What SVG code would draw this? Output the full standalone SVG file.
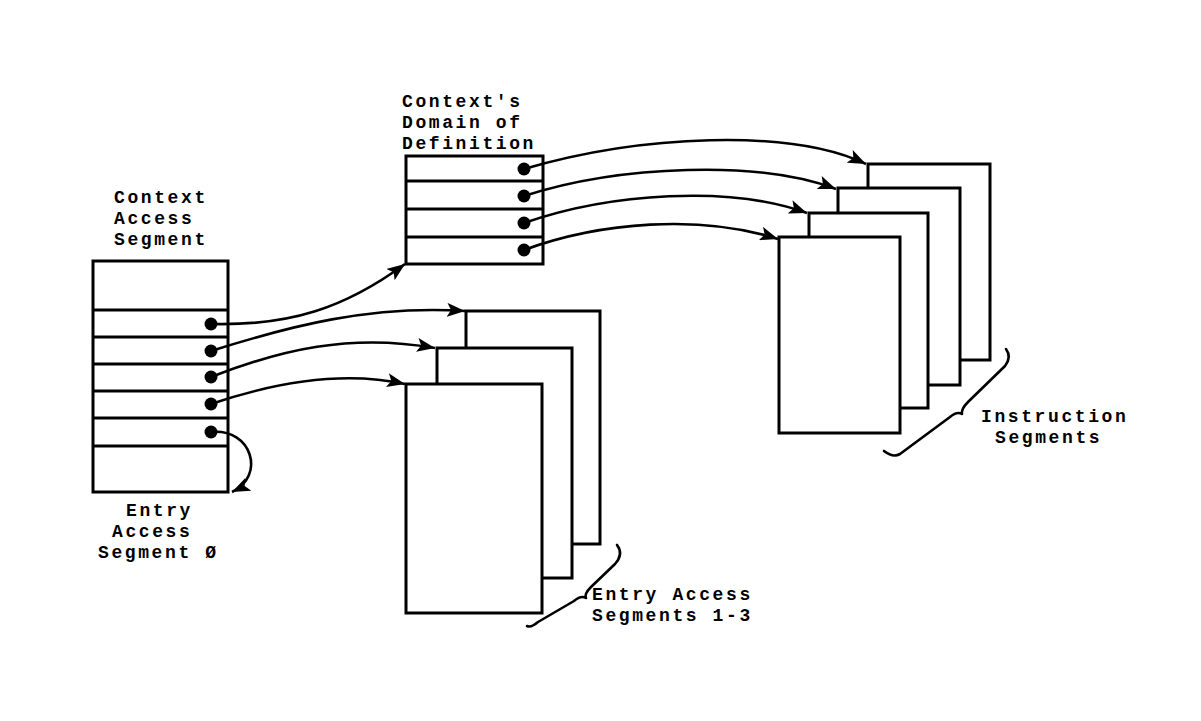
<svg xmlns="http://www.w3.org/2000/svg" width="1201" height="721" viewBox="0 0 1201 721">
<defs>
<style>
.box{fill:#fff;stroke:#000;stroke-width:3}
.row{stroke:#000;stroke-width:3}
.dot{fill:#000}
.txt{font-family:"Liberation Mono","DejaVu Sans Mono",monospace;font-weight:bold;font-size:18px;letter-spacing:2.6px;fill:#000}
.con{fill:none;stroke:#000;stroke-width:2.6}
.brace{fill:none;stroke:#000;stroke-width:2.6;stroke-linejoin:round;stroke-linecap:round}
</style>
<marker id="ah" markerUnits="userSpaceOnUse" markerWidth="20" markerHeight="14" refX="18" refY="7" orient="auto">
<path d="M0,0 L18,7 L0,14 L4,7 Z" fill="#000"/>
</marker>
</defs>
<rect width="1201" height="721" fill="#fff"/>

<g id="context-access-segment">
<rect class="box" x="93" y="261" width="135" height="231"/>
<line class="row" x1="93" y1="310" x2="228" y2="310"/>
<line class="row" x1="93" y1="337" x2="228" y2="337"/>
<line class="row" x1="93" y1="364" x2="228" y2="364"/>
<line class="row" x1="93" y1="391" x2="228" y2="391"/>
<line class="row" x1="93" y1="418" x2="228" y2="418"/>
<line class="row" x1="93" y1="446" x2="228" y2="446"/>
<circle class="dot" cx="211" cy="324" r="6.5"/>
<circle class="dot" cx="211" cy="351" r="6.5"/>
<circle class="dot" cx="211" cy="377" r="6.5"/>
<circle class="dot" cx="211" cy="404" r="6.5"/>
<circle class="dot" cx="211" cy="432" r="6.5"/>
<text class="txt" x="114" y="203">Context</text>
<text class="txt" x="114" y="224">Access</text>
<text class="txt" x="114" y="245">Segment</text>
<text class="txt" x="126" y="516">Entry</text>
<text class="txt" x="112" y="537">Access</text>
<text class="txt" x="98" y="558">Segment Ø</text>
</g>

<g id="domain-of-definition">
<rect class="box" x="406" y="156" width="137" height="108"/>
<line class="row" x1="406" y1="181" x2="543" y2="181"/>
<line class="row" x1="406" y1="209" x2="543" y2="209"/>
<line class="row" x1="406" y1="237" x2="543" y2="237"/>
<circle class="dot" cx="524" cy="169" r="6.5"/>
<circle class="dot" cx="524" cy="196" r="6.5"/>
<circle class="dot" cx="524" cy="223" r="6.5"/>
<circle class="dot" cx="524" cy="250" r="6.5"/>
<text class="txt" x="402" y="107">Context's</text>
<text class="txt" x="402" y="128">Domain of</text>
<text class="txt" x="402" y="149">Definition</text>
</g>

<g id="entry-access-segments">
<rect class="box" x="466" y="311" width="134" height="233"/>
<rect class="box" x="437" y="348" width="135" height="230"/>
<rect class="box" x="406" y="384" width="136" height="229"/>
<path class="brace" d="M617 545 Q624 554 615 564 L591 587 Q584 594 586 598 Q581 595 574 601 L538 622 Q531 628 527 626"/>
<text class="txt" x="592" y="600">Entry Access</text>
<text class="txt" x="592" y="621">Segments 1-3</text>
</g>

<g id="instruction-segments">
<rect class="box" x="868" y="164" width="122" height="196"/>
<rect class="box" x="838" y="188" width="122" height="197"/>
<rect class="box" x="809" y="213" width="119" height="195"/>
<rect class="box" x="779" y="237" width="121" height="196"/>
<path class="brace" d="M1006 349 Q1012 357 1005 366 L968 402 Q961 409 962 414 Q957 411 950 417 L900 454 Q893 458 884 451"/>
<text class="txt" x="981" y="422">Instruction</text>
<text class="txt" x="995" y="443">Segments</text>
</g>

<g id="connectors">
<path class="con" marker-end="url(#ah)" d="M211 324 C290 326 345 308 405 264"/>
<path class="con" marker-end="url(#ah)" d="M211 351 C290 326 370 305 465 311"/>
<path class="con" marker-end="url(#ah)" d="M211 377 C280 350 350 333 435 348"/>
<path class="con" marker-end="url(#ah)" d="M211 404 C270 384 340 370 405 384"/>
<path class="con" marker-end="url(#ah)" d="M211 432 C252 428 266 476 232 492"/>
<path class="con" marker-end="url(#ah)" d="M524 169 C640 135 790 128 866 164"/>
<path class="con" marker-end="url(#ah)" d="M524 196 C620 165 760 160 836 189"/>
<path class="con" marker-end="url(#ah)" d="M524 223 C610 193 730 185 807 213"/>
<path class="con" marker-end="url(#ah)" d="M524 250 C600 222 700 214 778 239"/>
</g>
</svg>
